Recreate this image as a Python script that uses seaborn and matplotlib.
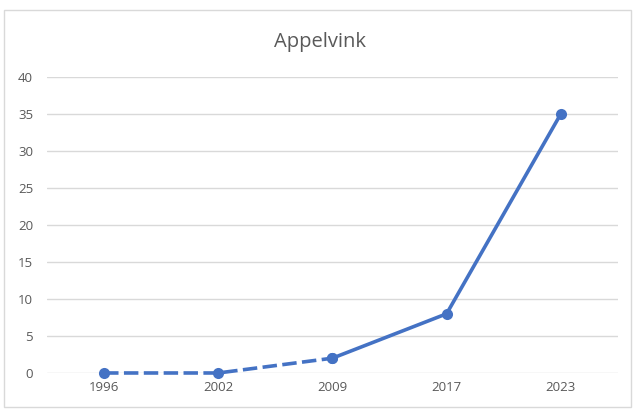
import matplotlib
matplotlib.use('Agg')
import matplotlib.pyplot as plt
import seaborn as sns
import pandas as pd
from matplotlib.patches import Rectangle

years = ["1996", "2002", "2009", "2017", "2023"]
counts = [0, 0, 2, 8, 35]
yticks = [0, 5, 10, 15, 20, 25, 30, 35, 40]

sns.set_style("white")
plt.rcParams['font.family'] = ['Open Sans', 'DejaVu Sans']

df = pd.DataFrame({"pos": range(len(years)), "year": years, "count": counts})
dashed = df.iloc[:3]
solid = df.iloc[2:]

fig = plt.figure(figsize=(6.35, 4.11), dpi=100)
ax = fig.add_axes([0.074, 0.0925, 0.899, 0.7202])

blue = "#4472C4"
grey = "#595959"

sns.lineplot(data=dashed, x="pos", y="count", ax=ax, color=blue, lw=2.6,
             linestyle=(0, (4, 1.5)), marker="o", markersize=8, markeredgewidth=0,
             clip_on=False)
sns.lineplot(data=solid, x="pos", y="count", ax=ax, color=blue, lw=2.6,
             marker="o", markersize=8, markeredgewidth=0, clip_on=False)

ax.set_xlim(-0.5, len(years) - 0.5)
ax.set_ylim(0, 40)
ax.set_yticks(yticks)
ax.set_xticks(range(len(years)))
ax.set_xticklabels(years)
ax.yaxis.grid(True, color="#d9d9d9", lw=1)
ax.set_axisbelow(True)
for s in ax.spines.values():
    s.set_visible(False)
ax.tick_params(axis="both", length=0, labelsize=9.5, labelcolor=grey)
ax.tick_params(axis="y", pad=10)
ax.tick_params(axis="x", pad=6)
ax.set_xlabel("")
ax.set_ylabel("")

fig.text(0.504, 0.898, "Appelvink", ha="center", va="center", fontsize=14.5, color=grey)
fig.patches.append(Rectangle((4 / 635, 4 / 411), 627 / 635, 397 / 411, transform=fig.transFigure,
                             fill=False, edgecolor="#d9d9d9", lw=1))

fig.savefig("out.png", dpi=100, facecolor="white")
